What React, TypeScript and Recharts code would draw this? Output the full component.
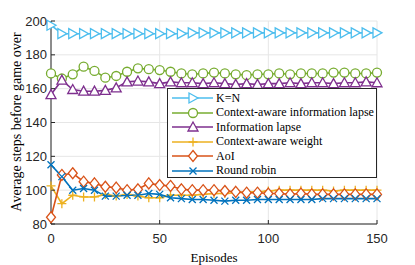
import { CartesianGrid, Legend, Line, LineChart, XAxis, YAxis } from "recharts";

const episodes = [0, 5, 10, 15, 20, 25, 30, 35, 40, 45, 50, 55, 60, 65, 70, 75, 80, 85, 90, 95, 100, 105, 110, 115, 120, 125, 130, 135, 140, 145, 150];

const kn = [197.5, 192.5, 192.5, 192.5, 192.5, 192.5, 192.5, 192.5, 192.5, 192.5, 192.5, 192.5, 192.5, 193, 193, 193, 193, 193, 193, 193, 193, 193, 193, 193, 193, 193, 193, 193, 193, 193, 193];
const cail = [169, 166, 168.5, 173, 170.5, 166.5, 167.5, 170, 172, 171.5, 171, 170, 169, 168.5, 169, 169.5, 169, 168.5, 168, 168.5, 168.5, 169, 168.5, 169, 169, 169, 169.5, 169.5, 169, 169, 169.5];
const il = [156.5, 165, 159.5, 158.5, 158.5, 159, 160.5, 164, 164.5, 164, 163, 164, 163.5, 163.5, 163, 163.5, 163, 162.5, 163, 162.5, 163, 163, 163.5, 163, 163.5, 163.5, 163, 163.5, 163.5, 164, 163.5];
const caw = [102.5, 92, 97, 96, 96, 97.5, 96.5, 97.5, 96.5, 95.5, 95.5, 97, 97, 97, 97.5, 98, 98, 98.5, 99, 99, 99.5, 100, 100, 100, 100, 100, 99.5, 100, 100, 100, 100];
const aoi = [84, 109, 110, 105, 104, 102, 101.5, 100, 100.5, 104, 103, 102.5, 100.5, 100, 100, 100, 99.5, 99, 98.5, 98.5, 98, 98, 97.5, 98, 97.5, 97.5, 97.5, 97.5, 97.5, 97.5, 97.5];
const rr = [115, 108, 100, 101, 100, 96.5, 96.5, 97, 97, 98, 97.5, 95.5, 95, 94.5, 94.5, 94, 93.5, 94, 94, 94.5, 94.5, 94.5, 94.5, 94.5, 94.5, 95, 95, 95, 95, 95, 95];

const xTicks = [0, 50, 100, 150];
const yTicks = [80, 100, 120, 140, 160, 180, 200];

const data = episodes.map((ep, i) => ({ ep, kn: kn[i], cail: cail[i], il: il[i], caw: caw[i], aoi: aoi[i], rr: rr[i] }));

type MarkerKind = "right" | "circle" | "up" | "plus" | "diamond" | "x";

function Marker({ cx, cy, kind, color }: { cx: number; cy: number; kind: MarkerKind; color: string }) {
  const p = { fill: "white", stroke: color, strokeWidth: 1.3 };
  if (kind === "right") return <polygon points={`${cx - 4},${cy - 5} ${cx + 5},${cy} ${cx - 4},${cy + 5}`} {...p} />;
  if (kind === "circle") return <circle cx={cx} cy={cy} r={4.5} {...p} />;
  if (kind === "up") return <polygon points={`${cx - 5},${cy + 4} ${cx},${cy - 5} ${cx + 5},${cy + 4}`} {...p} />;
  if (kind === "diamond") return <polygon points={`${cx},${cy - 5.5} ${cx + 4.5},${cy} ${cx},${cy + 5.5} ${cx - 4.5},${cy}`} {...p} />;
  if (kind === "plus") return <path d={`M${cx - 4.5},${cy}H${cx + 4.5}M${cx},${cy - 4.5}V${cy + 4.5}`} stroke={color} strokeWidth={1.3} fill="none" />;
  return <path d={`M${cx - 3.5},${cy - 3.5}L${cx + 3.5},${cy + 3.5}M${cx - 3.5},${cy + 3.5}L${cx + 3.5},${cy - 3.5}`} stroke={color} strokeWidth={1.3} fill="none" />;
}

const series: { key: string; name: string; color: string; kind: MarkerKind }[] = [
  { key: "kn", name: "K=N", color: "#4DBEEE", kind: "right" },
  { key: "cail", name: "Context-aware information lapse", color: "#77AC30", kind: "circle" },
  { key: "il", name: "Information lapse", color: "#7E2F8E", kind: "up" },
  { key: "caw", name: "Context-aware weight", color: "#EDB120", kind: "plus" },
  { key: "aoi", name: "AoI", color: "#D95319", kind: "diamond" },
  { key: "rr", name: "Round robin", color: "#0072BD", kind: "x" },
];

const tickStyle = { fontFamily: "'Liberation Sans', Arial, sans-serif", fontSize: 13, fill: "#262626" };
const serif = "'Liberation Serif', 'Times New Roman', serif";

function LegendBox() {
  return (
    <div style={{ width: 210, height: 90, background: "white", border: "1px solid #262626", fontFamily: serif, fontSize: 12, color: "#000", boxSizing: "border-box", paddingTop: 2 }}>
      {series.map((s) => (
        <div key={s.key} style={{ display: "flex", alignItems: "center", height: 14.5 }}>
          <svg width={48} height={14} style={{ flex: "none" }}>
            <line x1={4} x2={45} y1={7} y2={7} stroke={s.color} strokeWidth={1.5} />
            <Marker cx={25} cy={7} kind={s.kind} color={s.color} />
          </svg>
          <span style={{ whiteSpace: "nowrap" }}>{s.name}</span>
        </div>
      ))}
    </div>
  );
}

const yLabel = () => (
  <text x={16} y={122} transform="rotate(-90 16 122)" textAnchor="middle" dominantBaseline="central" fontFamily={serif} fontSize={14} fill="#000">
    Average steps before game over
  </text>
);

export default function App() {
  return (
    <div style={{ position: "fixed", left: 0, top: 0, width: 415, height: 265, background: "white" }}>
      <LineChart width={415} height={265} data={data} margin={{ top: 21, right: 38, bottom: 0, left: 0 }}>
        <CartesianGrid stroke="#e6e6e6" strokeWidth={1} />
        <XAxis dataKey="ep" type="number" domain={[0, 150]} ticks={xTicks} height={41} tick={tickStyle} tickSize={-4} tickMargin={14} stroke="#262626"
          label={{ value: "Episodes", position: "insideBottom", offset: 3, style: { fontFamily: serif, fontSize: 13, fill: "#000" } }} />
        <XAxis xAxisId="top" orientation="top" dataKey="ep" type="number" domain={[0, 150]} ticks={xTicks} height={0} tick={false} tickSize={-4} stroke="#262626" />
        <YAxis type="number" domain={[80, 200]} ticks={yTicks} width={51} tick={tickStyle} tickSize={-4} tickMargin={8} stroke="#262626" label={yLabel} />
        <YAxis yAxisId="right" orientation="right" type="number" domain={[80, 200]} ticks={yTicks} width={0} tick={false} tickSize={-4} stroke="#262626" />
        {series.map((s) => (
          <Line key={s.key} dataKey={s.key} name={s.name} type="linear" stroke={s.color} strokeWidth={1.6} isAnimationActive={false}
            dot={(props: any) => <Marker key={props.index} cx={props.cx} cy={props.cy} kind={s.kind} color={s.color} />} activeDot={false} />
        ))}
        <Legend layout="horizontal" verticalAlign="middle" align="center" wrapperStyle={{ position: "absolute", left: 167, top: 88, width: 210, height: 90 }} content={() => <LegendBox />} />
      </LineChart>
    </div>
  );
}
